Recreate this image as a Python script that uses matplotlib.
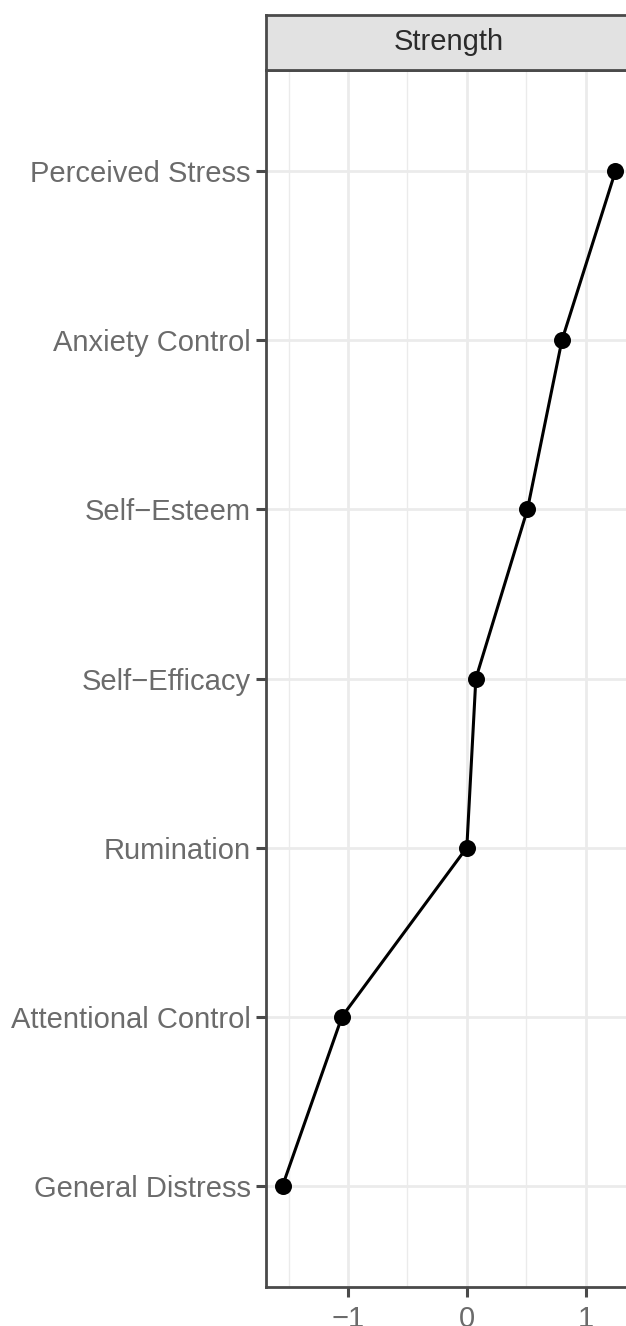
import matplotlib
matplotlib.use("Agg")
import matplotlib.pyplot as plt
from matplotlib.ticker import MultipleLocator

plt.rcParams["font.family"] = ["Liberation Sans", "DejaVu Sans"]

# data (top to bottom as shown)
nodes = ["Perceived Stress", "Anxiety Control", "Self\u2212Esteem", "Self\u2212Efficacy",
         "Rumination", "Attentional Control", "General Distress"]
strength = [1.25, 0.80, 0.51, 0.076, 0.0, -1.05, -1.55]
xticks = [-1, 0, 1]
xtick_labels = ["\u22121", "0", "1"]

W, H = 626, 1326
fig = plt.figure(figsize=(W / 100, H / 100), dpi=100)

# panel geometry in pixels (panel runs past the right image edge)
px_l, px_r, px_t, px_b = 266, 632, 70, 1287
strip_t = 15
ax = fig.add_axes([px_l / W, (H - px_b) / H, (px_r - px_l) / W, (px_b - px_t) / H])

y = list(range(len(nodes), 0, -1))
ax.plot(strength, y, color="black", linewidth=2.2, zorder=3)
ax.scatter(strength, y, s=150, color="black", zorder=4, linewidths=0)

ax.set_xlim(-1.69, 1.39)
ax.set_ylim(0.4, len(nodes) + 0.6)
ax.set_yticks(y)
ax.set_yticklabels(nodes)
ax.set_xticks(xticks)
ax.set_xticklabels(xtick_labels)
ax.xaxis.set_minor_locator(MultipleLocator(0.5))

ax.grid(True, which="major", color="#EBEBEB", linewidth=2.0, zorder=0)
ax.grid(True, which="minor", axis="x", color="#EBEBEB", linewidth=1.0, zorder=0)
ax.set_axisbelow(True)
ax.tick_params(which="major", length=7, width=2.2, color="#4A4A4A",
               labelcolor="#6B6B6B", labelsize=21)
ax.tick_params(axis="y", pad=4)
ax.tick_params(axis="x", pad=6)
ax.tick_params(which="minor", length=0)
for s in ax.spines.values():
    s.set_color("#4A4A4A")
    s.set_linewidth(2)

# facet strip
sax = fig.add_axes([px_l / W, (H - px_t) / H, (px_r - px_l) / W, (px_t - strip_t) / H])
sax.set_facecolor("#E2E2E2")
sax.set_xticks([])
sax.set_yticks([])
for s in sax.spines.values():
    s.set_color("#4A4A4A")
    s.set_linewidth(2)
sax.text((449 - px_l) / (px_r - px_l), 0.5, "Strength", transform=sax.transAxes,
         ha="center", va="center", fontsize=21, color="#2B2B2B")

fig.savefig("out.png", dpi=100)
